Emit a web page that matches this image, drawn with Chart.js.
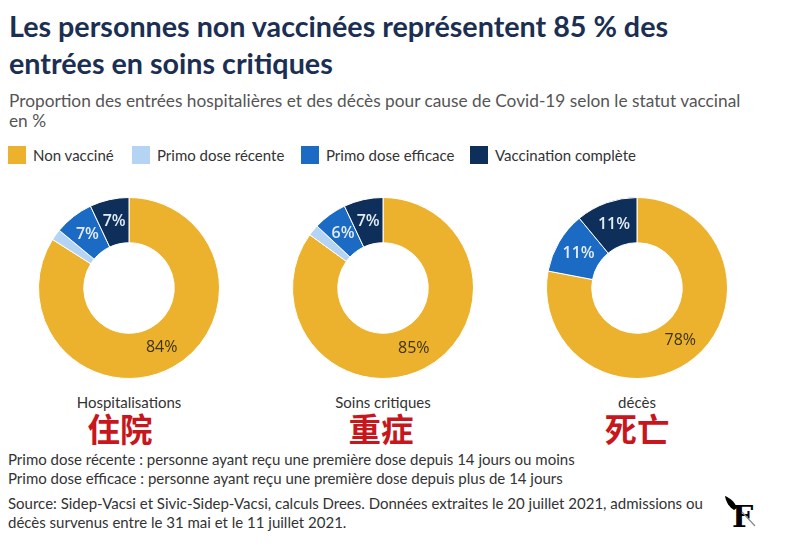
<!DOCTYPE html>
<html><head><meta charset="utf-8">
<script src="https://cdn.jsdelivr.net/npm/chart.js@4"></script>
<style>
body{margin:0;width:800px;height:555px;background:#fff;position:relative;overflow:hidden;font-family:Lato,"Noto Sans",sans-serif;}
.abs{position:absolute;white-space:nowrap;}
#title{left:9px;top:8px;font-size:28.7px;font-weight:700;color:#1b2f52;line-height:37px;}
#subtitle{left:9px;top:91px;font-size:17.3px;color:#555;line-height:20px;}
.leg{top:146px;font-size:15px;color:#333;line-height:18px;}
.sw{display:inline-block;width:18px;height:18px;vertical-align:top;margin-right:7px;}
.box{position:absolute;width:182px;height:182px;top:197px;}
.cap{font-size:15px;color:#333;text-align:center;width:200px;top:393px;}
.zh{font-family:"Noto Sans CJK SC";font-size:32.5px;font-weight:700;color:#c8161d;text-align:center;width:200px;top:407px;line-height:42px;}
.note{left:8px;font-size:15px;color:#333;line-height:19px;}
#logo{left:722px;top:494px;width:45px;height:36px;}
</style></head>
<body>
<div id="title" class="abs">Les personnes non vaccinées représentent 85 % des<br>entrées en soins critiques</div>
<div id="subtitle" class="abs">Proportion des entrées hospitalières et des décès pour cause de Covid-19 selon le statut vaccinal<br>en %</div>
<div id="legend"></div>
<div id="charts"></div>
<div class="abs note" style="top:450px">Primo dose récente : personne ayant reçu une première dose depuis 14 jours ou moins<br>Primo dose efficace : personne ayant reçu une première dose depuis plus de 14 jours</div>
<div class="abs note" style="top:494px">Source: Sidep-Vacsi et Sivic-Sidep-Vacsi, calculs Drees. Données extraites le 20 juillet 2021, admissions ou<br>décès survenus entre le 31 mai et le 11 juillet 2021.</div>
<svg id="logo" class="abs" viewBox="0 0 45 36">
  <path d="M3 2 C8 4 13 8 15 14 L12 16 C7 13 4 8 3 2 Z" fill="#000"/>
  <text x="10" y="33" font-family="DejaVu Serif" font-weight="900" font-size="30" fill="#000">F</text>
  <line x1="20" y1="18" x2="33" y2="32" stroke="#888" stroke-width="1.2"/>
</svg>
<script>
const categories = ["Non vacciné", "Primo dose récente", "Primo dose efficace", "Vaccination complète"];
const hospitalisations = [84, 2, 7, 7];
const soinsCritiques = [85, 2, 6, 7];
const deces = [78, 0, 11, 11];
const panelLabels = ["Hospitalisations", "Soins critiques", "décès"];
const panelLabelsZh = ["住院", "重症", "死亡"];
const seriesList = [hospitalisations, soinsCritiques, deces];
const colors = ["#ECB22E", "#B5D3F3", "#1B6AC3", "#0E2F5A"];
const labelColors = ["#3d3315", "#ffffff", "#e3ecf7", "#e3ecf7"];

// legend
const legX = [8, 132, 301, 470];
const legend = document.getElementById('legend');
categories.forEach((c, i) => {
  const d = document.createElement('div');
  d.className = 'abs leg';
  d.style.left = legX[i] + 'px';
  d.innerHTML = '<span class="sw" style="background:' + colors[i] + '"></span>' + c;
  legend.appendChild(d);
});

const pctPlugin = {
  id: 'pct',
  afterDatasetsDraw(chart) {
    const ctx = chart.ctx;
    const ds = chart.data.datasets[0];
    chart.getDatasetMeta(0).data.forEach((arc, i) => {
      const v = ds.data[i];
      if (v < 5) return;
      const p = arc.tooltipPosition();
      ctx.save();
      ctx.font = (i === 0 ? '400 ' : '600 ') + '16px "Open Sans"';
      ctx.fillStyle = labelColors[i];
      ctx.textAlign = 'center';
      ctx.textBaseline = 'middle';
      ctx.fillText(v + '%', p.x, p.y);
      ctx.restore();
    });
  }
};

const centers = [129, 383, 637];
const zhCenters = [120, 381, 637];
const charts = document.getElementById('charts');
seriesList.forEach((data, k) => {
  const box = document.createElement('div');
  box.className = 'box';
  box.style.left = (centers[k] - 91) + 'px';
  const cv = document.createElement('canvas');
  box.appendChild(cv);
  charts.appendChild(box);
  const cap = document.createElement('div');
  cap.className = 'abs cap';
  cap.style.left = (centers[k] - 100) + 'px';
  cap.textContent = panelLabels[k];
  charts.appendChild(cap);
  const zh = document.createElement('div');
  zh.className = 'abs zh';
  zh.style.left = (zhCenters[k] - 100) + 'px';
  zh.textContent = panelLabelsZh[k];
  charts.appendChild(zh);
  new Chart(cv, {
    type: 'doughnut',
    data: { labels: categories, datasets: [{ data: data, backgroundColor: colors, borderColor: '#ffffff', borderWidth: 1 }] },
    options: {
      responsive: true, maintainAspectRatio: false, animation: false,
      cutout: '50%',
      layout: { padding: 0 },
      plugins: { legend: { display: false }, tooltip: { enabled: false } }
    },
    plugins: [pctPlugin]
  });
});
</script>
</body></html>
